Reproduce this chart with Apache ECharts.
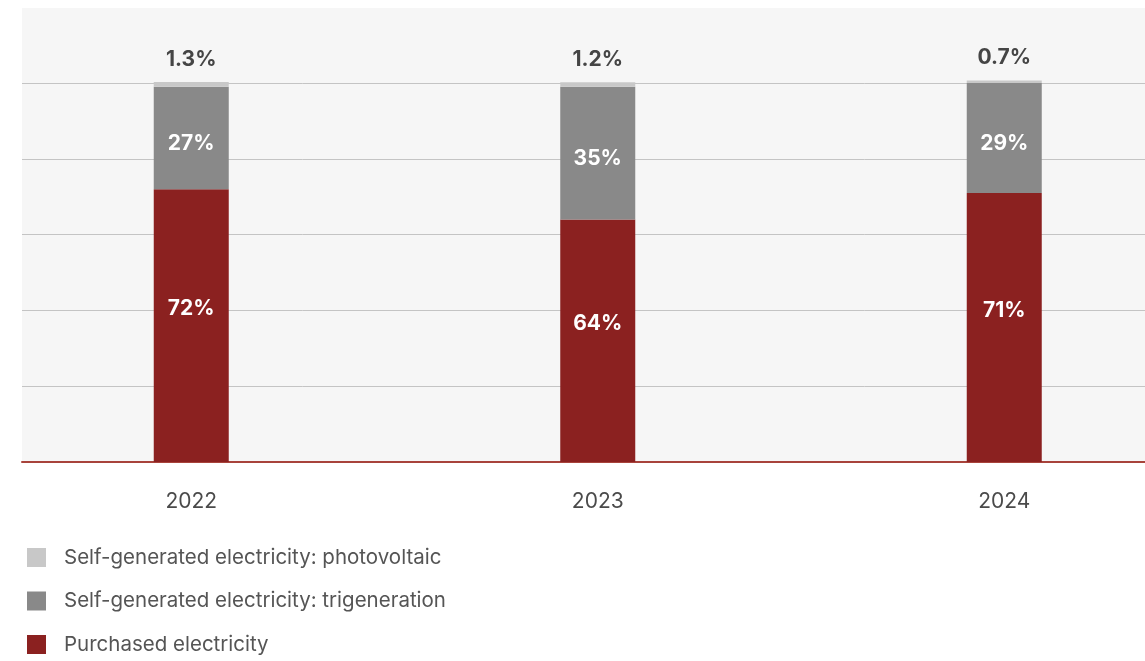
<!DOCTYPE html>
<html><head><meta charset="utf-8">
<script src="https://cdn.jsdelivr.net/npm/echarts@6/dist/echarts.min.js"></script>
<style>html,body{margin:0;padding:0;background:#fff}#c{width:1145px;height:661px}</style>
</head><body><div id="c"></div>
<script>
const years = ['2022', '2023', '2024'];
const photovoltaic = [1.3, 1.2, 0.7];
const trigeneration = [27, 35, 29];
const purchased = [72, 64, 71];
const seriesNames = ['Self-generated electricity: photovoltaic', 'Self-generated electricity: trigeneration', 'Purchased electricity'];

const FONT = 'Inter, "Noto Sans", sans-serif';
const chart = echarts.init(document.getElementById('c'), null, {renderer: 'canvas'});
const YMAX = 119.8;
chart.setOption({
  animation: false,
  backgroundColor: '#ffffff',
  grid: [
    {left: 22, right: 0, top: 8, bottom: 199, show: true, backgroundColor: '#f6f6f6', borderWidth: 0, outerBoundsMode: 'none', containLabel: false},
    {left: -12, width: 1219.5, top: 8, bottom: 199, outerBoundsMode: 'none', containLabel: false}
  ],
  xAxis: [
    {gridIndex: 0, type: 'value', min: 0, max: 1, show: true,
     axisLine: {show: true, onZero: false, lineStyle: {color: '#a8433b', width: 2}},
     axisTick: {show: false}, axisLabel: {show: false}, splitLine: {show: false}},
    {gridIndex: 1, type: 'category', data: years,
     axisLine: {show: false}, axisTick: {show: false},
     axisLabel: {margin: 29, fontSize: 21, color: '#4a4a4a', fontFamily: FONT}}
  ],
  yAxis: [
    {gridIndex: 0, type: 'value', min: 0, max: YMAX, interval: 20,
     axisLine: {show: false}, axisTick: {show: false}, axisLabel: {show: false},
     splitLine: {show: true, showMaxLine: false, lineStyle: {color: '#c4c4c4', width: 1}}},
    {gridIndex: 1, type: 'value', min: 0, max: YMAX, show: false, splitLine: {show: false}}
  ],
  legend: {
    orient: 'vertical', left: 27, top: 547, padding: 0, itemWidth: 19, itemHeight: 19, itemGap: 22.5,
    icon: 'rect', data: seriesNames,
    textStyle: {fontSize: 20.5, lineHeight: 16, color: '#555555', fontFamily: FONT, padding: [3, 0, 0, 13]}
  },
  series: [
    {name: seriesNames[2], type: 'bar', stack: 's', xAxisIndex: 1, yAxisIndex: 1, barWidth: 75,
     data: purchased, itemStyle: {color: '#8b2120'},
     label: {show: true, position: 'inside', offset: [0, -17], formatter: p => p.value + '%',
       color: '#ffffff', fontWeight: 'bold', fontSize: 21, fontFamily: FONT}},
    {name: seriesNames[1], type: 'bar', stack: 's', xAxisIndex: 1, yAxisIndex: 1, barWidth: 75,
     data: trigeneration, itemStyle: {color: '#898989'},
     label: {show: true, position: 'inside', offset: [0, 6], formatter: p => p.value + '%',
       color: '#ffffff', fontWeight: 'bold', fontSize: 21, fontFamily: FONT}},
    {name: seriesNames[0], type: 'bar', stack: 's', xAxisIndex: 1, yAxisIndex: 1, barWidth: 75,
     data: photovoltaic, itemStyle: {color: '#c8c8c8'},
     label: {show: true, position: 'top', distance: 12, formatter: p => p.value + '%',
       color: '#454545', fontWeight: 'bold', fontSize: 21, fontFamily: FONT}}
  ]
});
</script></body></html>
